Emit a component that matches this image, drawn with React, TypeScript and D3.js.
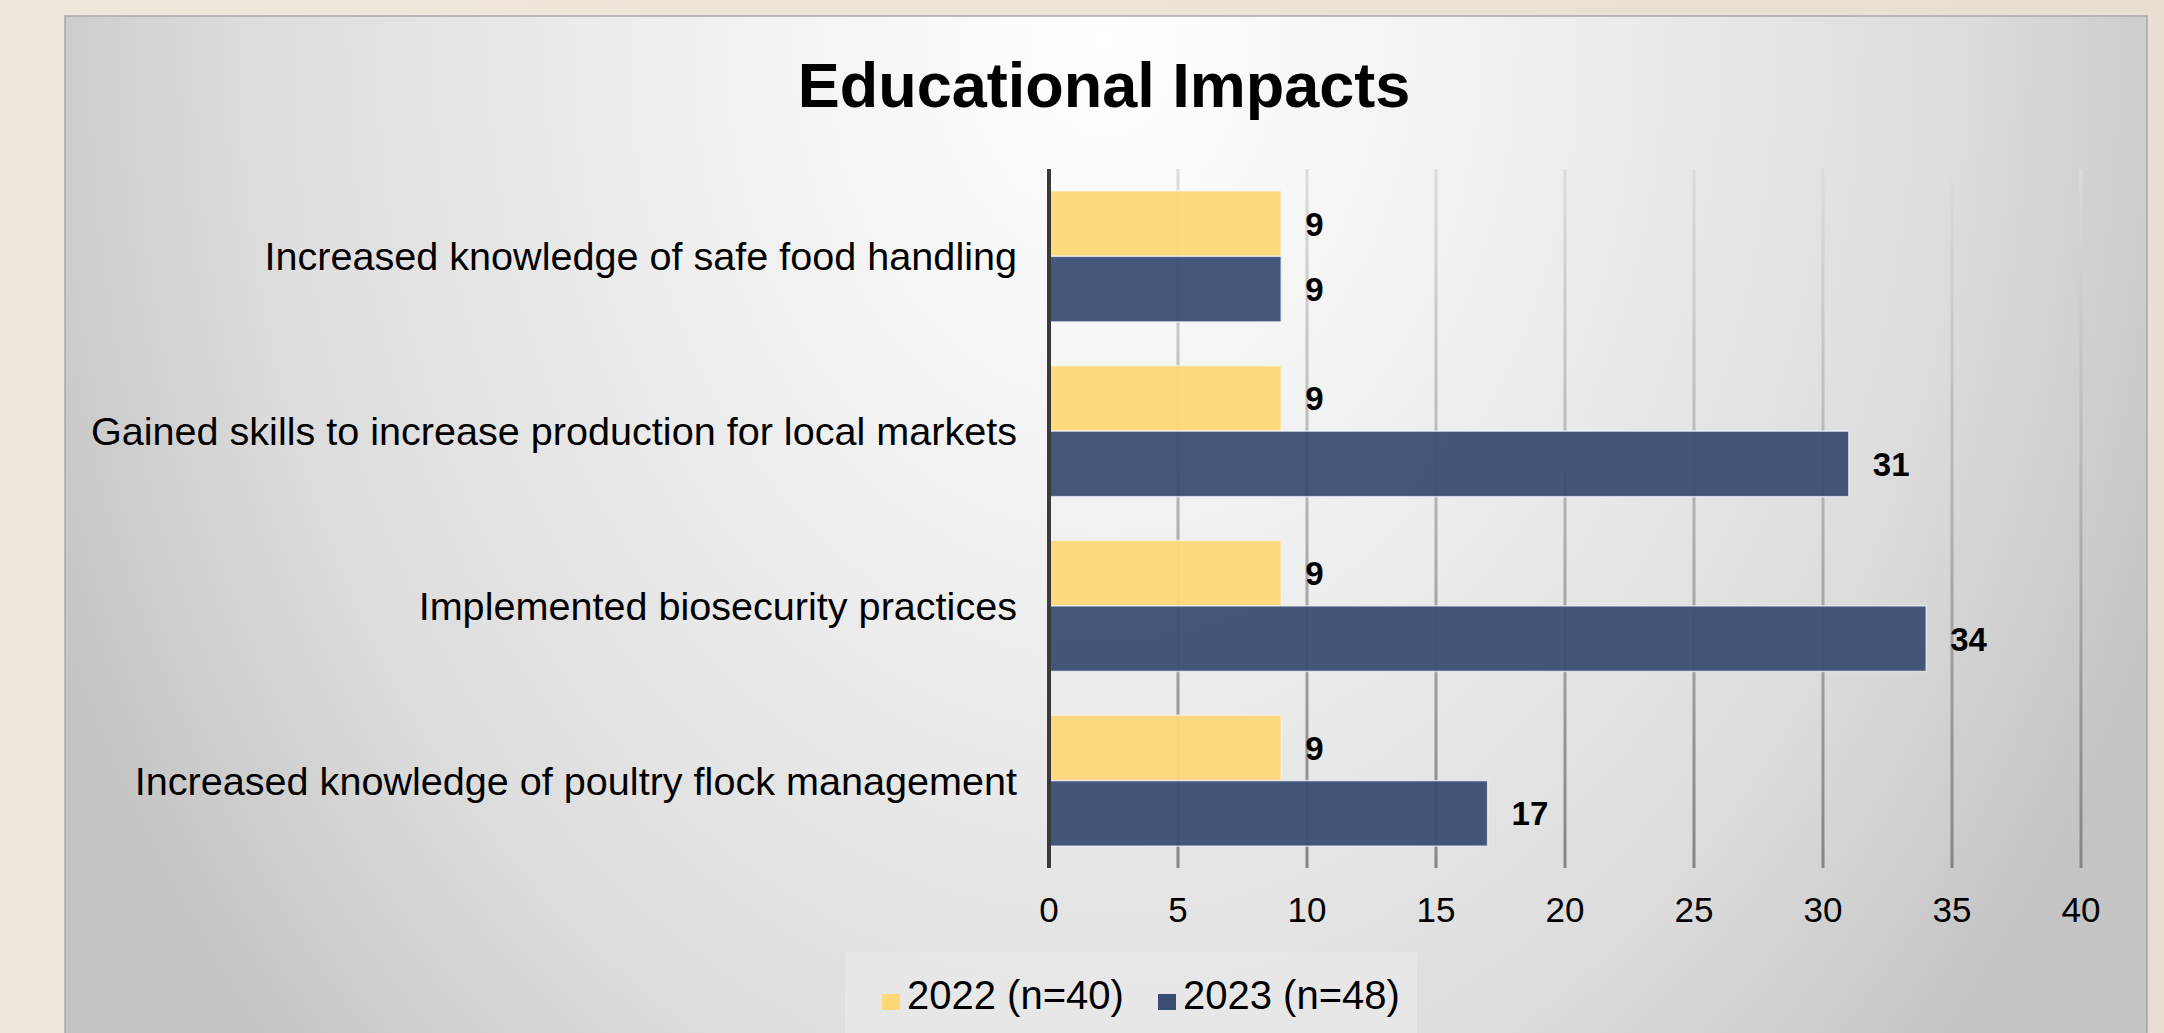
import React from "react";
import * as d3 from "d3";

// Chart data
const categories = [
    "Increased knowledge of safe food handling",
    "Gained skills to increase production for local markets",
    "Implemented biosecurity practices",
    "Increased knowledge of poultry flock management",
];
const series = ["2022 (n=40)", "2023 (n=48)"];
const values2022 = [9, 9, 9, 9];
const values2023 = [9, 31, 34, 17];
const xTicks = [0, 5, 10, 15, 20, 25, 30, 35, 40];

const W = 2164;
const H = 1033;
const FONT = "'Liberation Sans', Arial, Helvetica, sans-serif";
const YELLOW = "#fdd877";
const BLUE = "#3b4d74";

export default function App() {
    // Plot area
    const plot = { left: 1049, right: 2081, top: 169, bottom: 868 };

    const x = d3.scaleLinear().domain([0, 40]).range([plot.left, plot.right]);
    const y = d3.scaleBand<string>()
        .domain(categories)
        .range([plot.top, plot.bottom])
        .paddingInner(0.25)
        .paddingOuter(0.125);
    const sub = d3.scaleBand<string>()
        .domain(series)
        .range([0, y.bandwidth()]);

    const rows = categories.map((c, i) => [
        { cat: c, key: series[0], value: values2022[i], color: YELLOW },
        { cat: c, key: series[1], value: values2023[i], color: BLUE },
    ]).flat();

    return (
        <svg width={W} height={H} style={{ position: "absolute", left: 0, top: 0, display: "block" }}
            fontFamily={FONT}>
            <defs>
                <radialGradient id="panelBg" gradientUnits="userSpaceOnUse"
                    cx={1104} cy={40} r={1150}
                    gradientTransform="translate(1104,40) scale(1,1.3) translate(-1104,-40)">
                    <stop offset="0" stopColor="#ffffff" />
                    <stop offset="0.4" stopColor="#eeeeee" />
                    <stop offset="0.75" stopColor="#dcdcdc" />
                    <stop offset="1" stopColor="#c4c4c4" />
                </radialGradient>
                <linearGradient id="gridGrad" gradientUnits="userSpaceOnUse"
                    x1={0} y1={plot.top} x2={0} y2={plot.bottom}>
                    <stop offset="0" stopColor="#dcdcdc" />
                    <stop offset="1" stopColor="#858585" />
                </linearGradient>
                <linearGradient id="outerBg" x1="0" y1="0" x2="1" y2="0">
                    <stop offset="0" stopColor="#efe8dd" />
                    <stop offset="0.5" stopColor="#ece4d6" />
                    <stop offset="1" stopColor="#e6dfd2" />
                </linearGradient>
            </defs>

            {/* outer background and panel */}
            <rect x={0} y={0} width={W} height={H} fill="url(#outerBg)" />
            <rect x={65} y={16} width={2082} height={H} fill="url(#panelBg)"
                stroke="#a9a9a9" strokeWidth={1.5} />

            {/* title */}
            <text x={1104} y={107} textAnchor="middle" fontSize={63} fontWeight="bold" fill="#000">
                Educational Impacts
            </text>

            {/* gridlines */}
            {xTicks.filter(t => t > 0).map(t => (
                <line key={t} x1={x(t)} x2={x(t)} y1={plot.top} y2={plot.bottom}
                    stroke="url(#gridGrad)" strokeWidth={3} />
            ))}

            {/* bars */}
            {rows.map(r => (
                <rect key={r.cat + r.key}
                    x={x(0)} y={(y(r.cat) ?? 0) + (sub(r.key) ?? 0)}
                    width={x(r.value) - x(0)} height={sub.bandwidth()}
                    fill={r.color} fillOpacity={0.95}
                    stroke="#f4f6fb" strokeOpacity={0.7} strokeWidth={1.5} />
            ))}

            {/* data labels */}
            {rows.map(r => (
                <text key={"l" + r.cat + r.key}
                    x={x(r.value) + 24}
                    y={(y(r.cat) ?? 0) + (sub(r.key) ?? 0) + sub.bandwidth() / 2 + 12}
                    fontSize={33} fontWeight="bold" fill="#000">
                    {r.value}
                </text>
            ))}

            {/* y axis line */}
            <line x1={x(0)} x2={x(0)} y1={plot.top} y2={plot.bottom} stroke="#3a3a3a" strokeWidth={4} />

            {/* category labels */}
            {categories.map(c => (
                <text key={c} x={1017} y={(y(c) ?? 0) + y.bandwidth() / 2 + 14}
                    textAnchor="end" fontSize={39.6} fill="#000">
                    {c}
                </text>
            ))}

            {/* x tick labels */}
            {xTicks.map(t => (
                <text key={"t" + t} x={x(t)} y={922} textAnchor="middle" fontSize={35} fill="#000">
                    {t}
                </text>
            ))}

            {/* legend */}
            <rect x={845} y={952} width={572} height={100} fill="#e8e8e8" fillOpacity={0.8} />
            <rect x={882} y={994} width={18} height={16} fill={YELLOW} />
            <text x={907} y={1009} fontSize={40} fill="#000">{series[0]}</text>
            <rect x={1158} y={994} width={18} height={16} fill={BLUE} />
            <text x={1183} y={1009} fontSize={40} fill="#000">{series[1]}</text>
        </svg>
    );
}
